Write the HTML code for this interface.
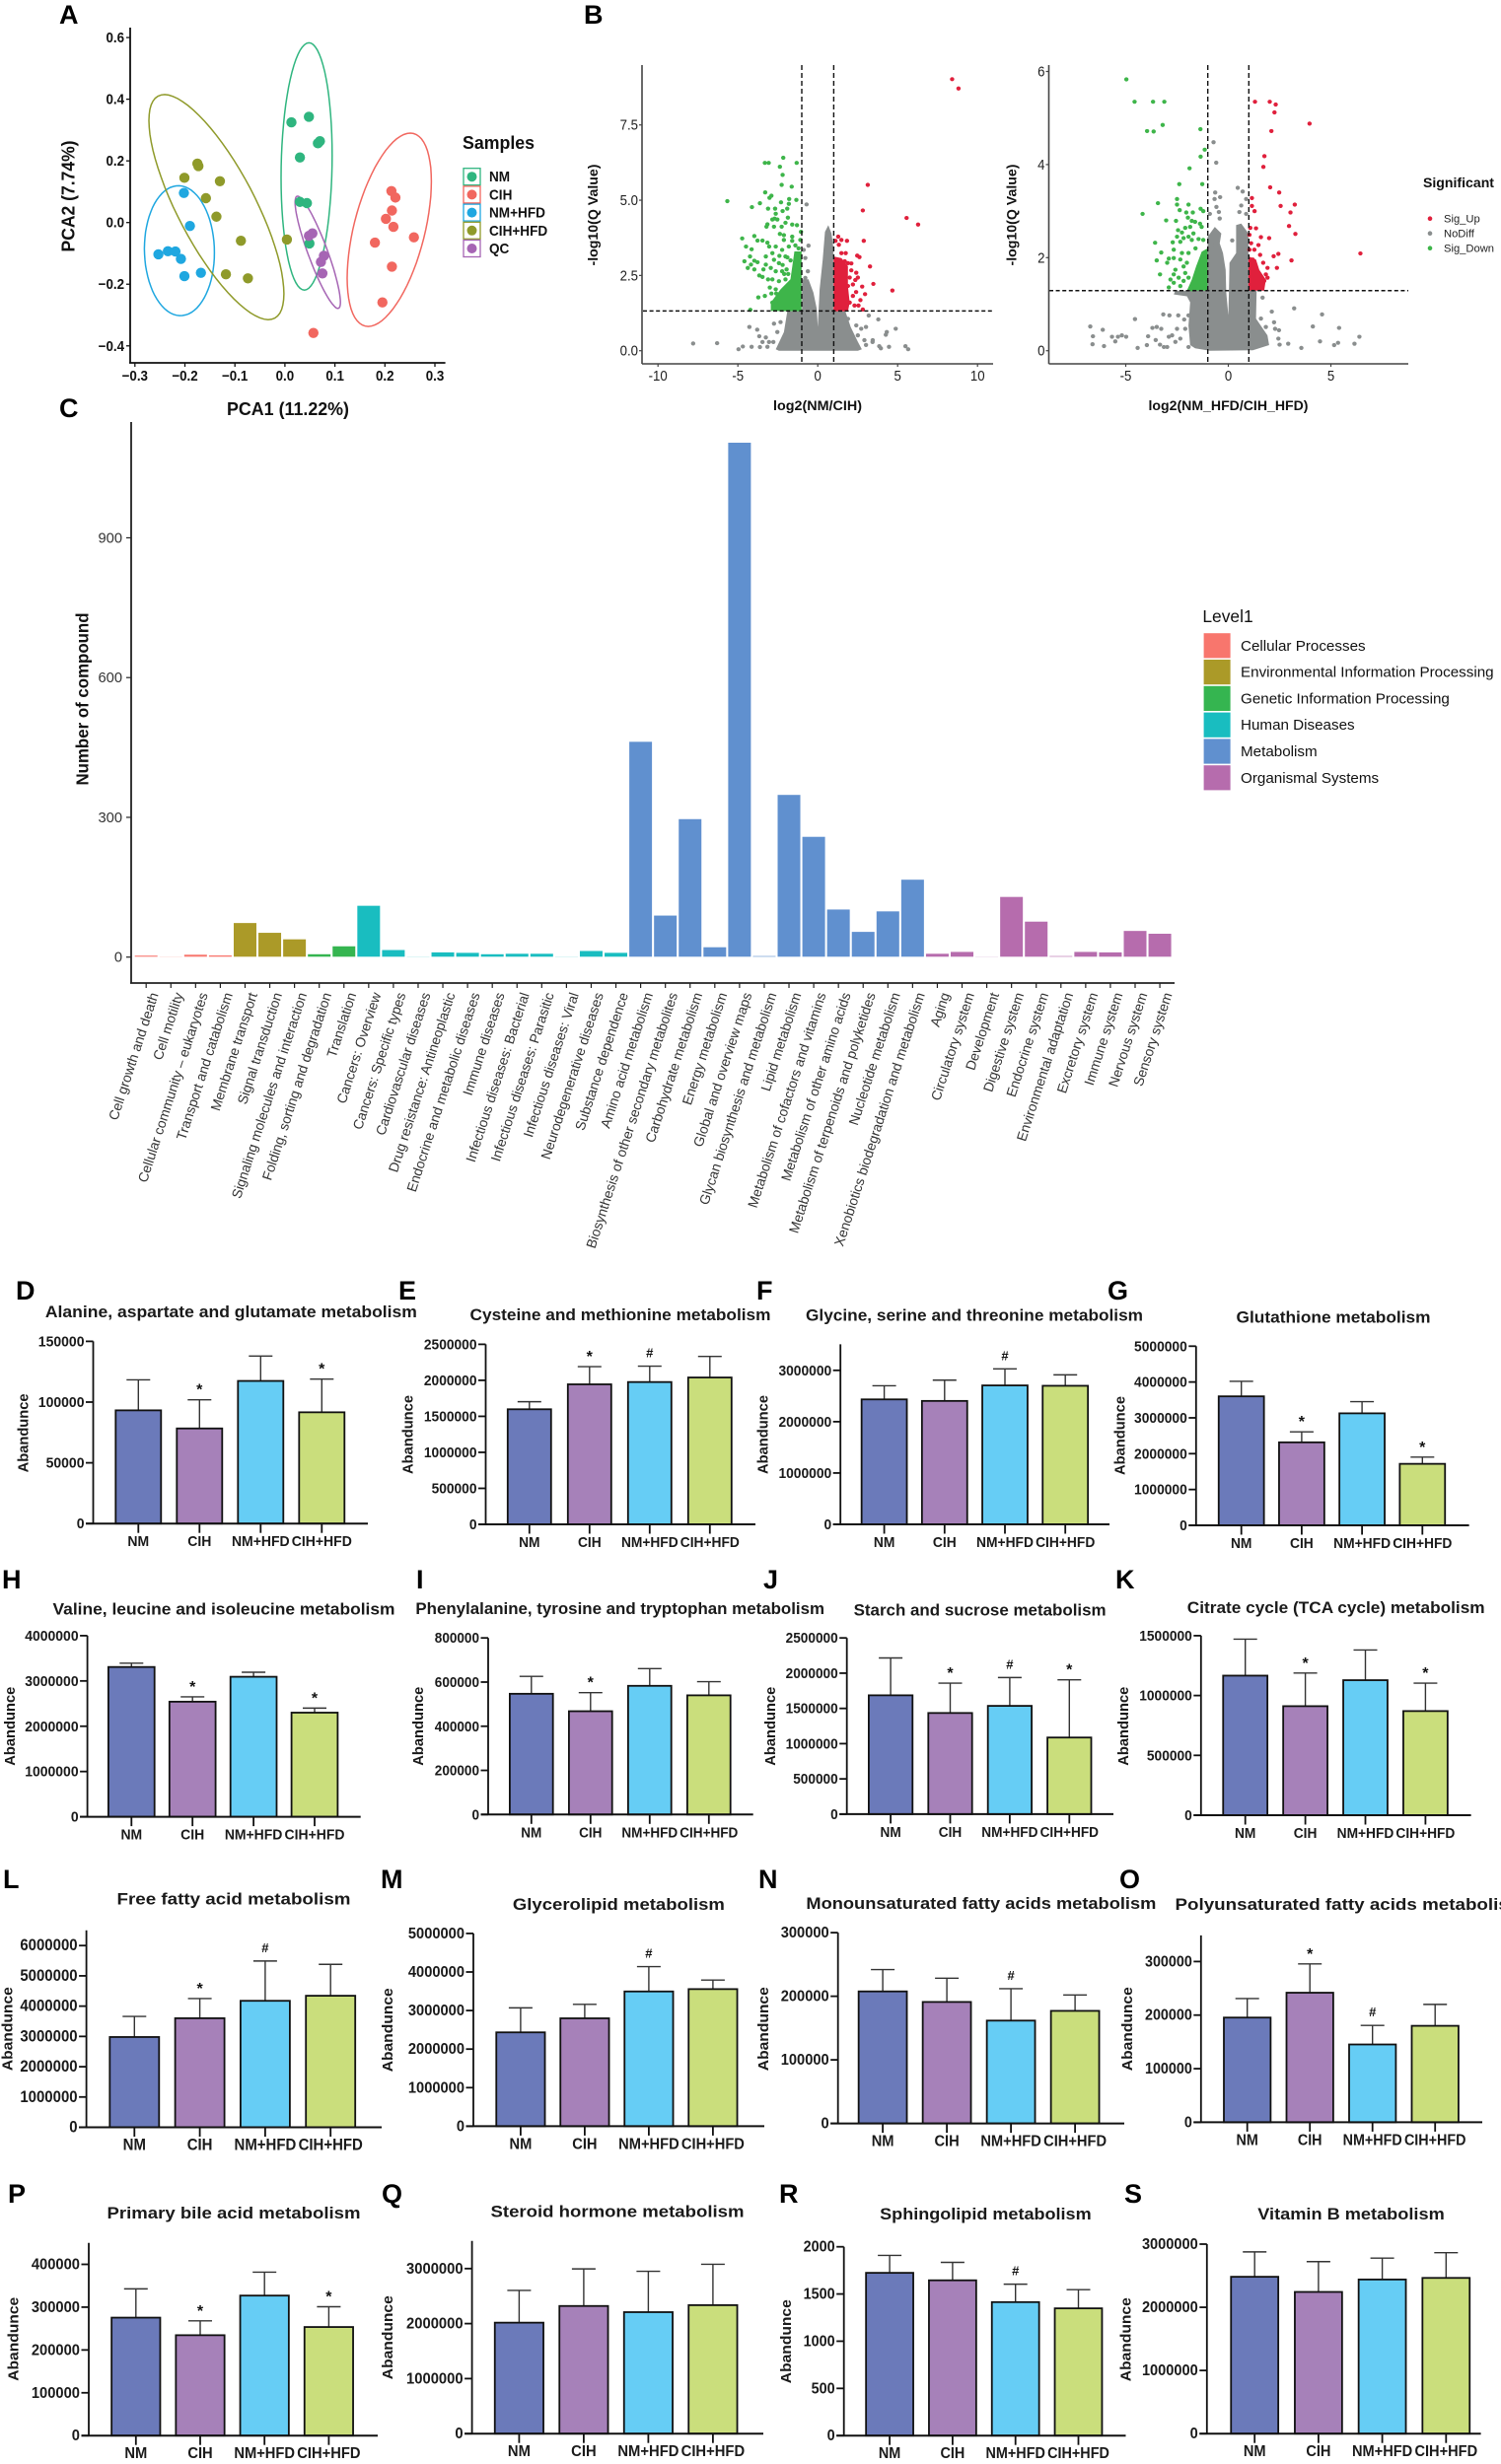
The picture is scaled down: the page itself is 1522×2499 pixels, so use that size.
<!DOCTYPE html>
<html lang="en">
<head>
<meta charset="utf-8">
<title>Metabolomics figure</title>
<style>
html,body{margin:0;padding:0;background:#fff;width:1522px;height:2499px;overflow:hidden}
svg{display:block;font-family:"Liberation Sans",sans-serif}
.letter{font-size:27px;font-weight:700;fill:#000}
.ptitle{font-size:17px;font-weight:700;fill:#1a1a1a;text-anchor:middle}
.abund{font-size:15px;font-weight:700;fill:#1a1a1a;text-anchor:middle}
.vt{font-size:14px;font-weight:700;fill:#111;text-anchor:middle}
</style>
</head>
<body>
<svg id="figure" xmlns="http://www.w3.org/2000/svg" width="1522" height="2499" viewBox="0 0 1522 2499">
<rect x="0" y="0" width="1522" height="2499" fill="#fff"/>
<text class="letter" x="60" y="24">A</text>
<text class="letter" x="592" y="24">B</text>
<text class="letter" x="60" y="423">C</text>
<text class="letter" x="16" y="1318">D</text>
<text class="letter" x="404" y="1318">E</text>
<text class="letter" x="767" y="1318">F</text>
<text class="letter" x="1123" y="1318">G</text>
<text class="letter" x="2" y="1611">H</text>
<text class="letter" x="422" y="1611">I</text>
<text class="letter" x="774" y="1611">J</text>
<text class="letter" x="1131" y="1611">K</text>
<text class="letter" x="3" y="1915">L</text>
<text class="letter" x="386" y="1915">M</text>
<text class="letter" x="769" y="1915">N</text>
<text class="letter" x="1135" y="1915">O</text>
<text class="letter" x="8" y="2234">P</text>
<text class="letter" x="387" y="2234">Q</text>
<text class="letter" x="790" y="2234">R</text>
<text class="letter" x="1140" y="2234">S</text>

<!-- panel A static text -->
<text x="69" y="199" dy="0.35em" transform="rotate(-90 69 199)" text-anchor="middle" font-size="18" font-weight="700" fill="#111" textLength="113" lengthAdjust="spacingAndGlyphs">PCA2 (7.74%)</text>
<text x="292" y="421" text-anchor="middle" font-size="18" font-weight="700" fill="#111" textLength="124" lengthAdjust="spacingAndGlyphs">PCA1 (11.22%)</text>
<text x="469" y="151" font-size="18" font-weight="700" fill="#111" textLength="73" lengthAdjust="spacingAndGlyphs">Samples</text>

<!-- panel B static text -->
<text x="601" y="218" dy="0.35em" transform="rotate(-90 601 218)" class="vt" textLength="103" lengthAdjust="spacingAndGlyphs">-log10(Q Value)</text>
<text x="1025.6" y="218" dy="0.35em" transform="rotate(-90 1025.6 218)" class="vt" textLength="103" lengthAdjust="spacingAndGlyphs">-log10(Q Value)</text>
<text x="829" y="416" class="vt" textLength="90" lengthAdjust="spacingAndGlyphs">log2(NM/CIH)</text>
<text x="1245.5" y="416" class="vt" textLength="162" lengthAdjust="spacingAndGlyphs">log2(NM_HFD/CIH_HFD)</text>
<text x="1443" y="190" font-size="14" font-weight="700" fill="#111" textLength="72" lengthAdjust="spacingAndGlyphs">Significant</text>

<!-- panel C static text -->
<text x="83.5" y="709" dy="0.35em" transform="rotate(-90 83.5 709)" text-anchor="middle" font-size="17.5" font-weight="700" fill="#111" textLength="175" lengthAdjust="spacingAndGlyphs">Number of compound</text>
<text x="1219.4" y="631" font-size="17.4" fill="#111">Level1</text>

<!-- bar panel titles -->
<text class="ptitle" x="234.4" y="1336" textLength="377" lengthAdjust="spacingAndGlyphs">Alanine, aspartate and glutamate metabolism</text>
<text class="ptitle" x="629" y="1339" textLength="305" lengthAdjust="spacingAndGlyphs">Cysteine and methionine metabolism</text>
<text class="ptitle" x="988" y="1339.5" textLength="342" lengthAdjust="spacingAndGlyphs">Glycine, serine and threonine metabolism</text>
<text class="ptitle" x="1352" y="1341.5" textLength="197" lengthAdjust="spacingAndGlyphs">Glutathione metabolism</text>
<text class="ptitle" x="227" y="1637.5" textLength="347" lengthAdjust="spacingAndGlyphs">Valine, leucine and isoleucine metabolism</text>
<text class="ptitle" x="628.7" y="1637" textLength="414.6" lengthAdjust="spacingAndGlyphs">Phenylalanine, tyrosine and tryptophan metabolism</text>
<text class="ptitle" x="993.6" y="1638.5" textLength="256" lengthAdjust="spacingAndGlyphs">Starch and sucrose metabolism</text>
<text class="ptitle" x="1354.7" y="1636" textLength="301.8" lengthAdjust="spacingAndGlyphs">Citrate cycle (TCA cycle) metabolism</text>
<text class="ptitle" x="237" y="1931.5" textLength="237" lengthAdjust="spacingAndGlyphs">Free fatty acid metabolism</text>
<text class="ptitle" x="627.4" y="1937" textLength="215" lengthAdjust="spacingAndGlyphs">Glycerolipid metabolism</text>
<text class="ptitle" x="994.9" y="1936" textLength="355" lengthAdjust="spacingAndGlyphs">Monounsaturated fatty acids metabolism</text>
<text class="ptitle" x="1369" y="1937" textLength="355" lengthAdjust="spacingAndGlyphs">Polyunsaturated fatty acids metabolism</text>
<text class="ptitle" x="237" y="2250" textLength="257" lengthAdjust="spacingAndGlyphs">Primary bile acid metabolism</text>
<text class="ptitle" x="626" y="2248.5" textLength="257" lengthAdjust="spacingAndGlyphs">Steroid hormone metabolism</text>
<text class="ptitle" x="999.4" y="2251" textLength="214.5" lengthAdjust="spacingAndGlyphs">Sphingolipid metabolism</text>
<text class="ptitle" x="1370" y="2251" textLength="189.5" lengthAdjust="spacingAndGlyphs">Vitamin B metabolism</text>

<!-- bar panel y titles -->
<text class="abund" x="23.4" y="1453.4" dy="0.35em" transform="rotate(-90 23.4 1453.4)" textLength="80" lengthAdjust="spacingAndGlyphs">Abandunce</text>
<text class="abund" x="413" y="1455" dy="0.35em" transform="rotate(-90 413 1455)" textLength="80" lengthAdjust="spacingAndGlyphs">Abandunce</text>
<text class="abund" x="773" y="1455" dy="0.35em" transform="rotate(-90 773 1455)" textLength="80" lengthAdjust="spacingAndGlyphs">Abandunce</text>
<text class="abund" x="1135" y="1456" dy="0.35em" transform="rotate(-90 1135 1456)" textLength="80" lengthAdjust="spacingAndGlyphs">Abandunce</text>
<text class="abund" x="10" y="1750.7" dy="0.35em" transform="rotate(-90 10 1750.7)" textLength="80" lengthAdjust="spacingAndGlyphs">Abandunce</text>
<text class="abund" x="424" y="1750.7" dy="0.35em" transform="rotate(-90 424 1750.7)" textLength="80" lengthAdjust="spacingAndGlyphs">Abandunce</text>
<text class="abund" x="781" y="1750.7" dy="0.35em" transform="rotate(-90 781 1750.7)" textLength="80" lengthAdjust="spacingAndGlyphs">Abandunce</text>
<text class="abund" x="1139" y="1750.7" dy="0.35em" transform="rotate(-90 1139 1750.7)" textLength="80" lengthAdjust="spacingAndGlyphs">Abandunce</text>
<text class="abund" x="7.5" y="2057.7" dy="0.35em" transform="rotate(-90 7.5 2057.7)" textLength="85" lengthAdjust="spacingAndGlyphs">Abandunce</text>
<text class="abund" x="393" y="2058.8" dy="0.35em" transform="rotate(-90 393 2058.8)" textLength="85" lengthAdjust="spacingAndGlyphs">Abandunce</text>
<text class="abund" x="774" y="2057.7" dy="0.35em" transform="rotate(-90 774 2057.7)" textLength="85" lengthAdjust="spacingAndGlyphs">Abandunce</text>
<text class="abund" x="1143" y="2057.7" dy="0.35em" transform="rotate(-90 1143 2057.7)" textLength="85" lengthAdjust="spacingAndGlyphs">Abandunce</text>
<text class="abund" x="13.4" y="2372.3" dy="0.35em" transform="rotate(-90 13.4 2372.3)" textLength="85" lengthAdjust="spacingAndGlyphs">Abandunce</text>
<text class="abund" x="393" y="2370.7" dy="0.35em" transform="rotate(-90 393 2370.7)" textLength="85" lengthAdjust="spacingAndGlyphs">Abandunce</text>
<text class="abund" x="797" y="2374.7" dy="0.35em" transform="rotate(-90 797 2374.7)" textLength="85" lengthAdjust="spacingAndGlyphs">Abandunce</text>
<text class="abund" x="1141.5" y="2372.7" dy="0.35em" transform="rotate(-90 1141.5 2372.7)" textLength="85" lengthAdjust="spacingAndGlyphs">Abandunce</text>
</svg>

<script>
/* ---------- Panel A data ---------- */
const pcaGroups = ['NM','CIH','NM+HFD','CIH+HFD','QC'];
const pcaXTicks = [-0.3,-0.2,-0.1,0,0.1,0.2,0.3];
const pcaYTicks = [-0.4,-0.2,0,0.2,0.4,0.6];
const pcaNM = [[.013,.325],[.048,.343],[.066,.257],[.070,.264],[.030,.211],[.030,.067],[.044,.063],[.049,-.068]];
const pcaCIH = [[.213,.102],[.221,.081],[.214,.039],[.202,.012],[.217,-.014],[.258,-.048],[.180,-.065],[.214,-.143],[.195,-.259],[.057,-.358]];
const pcaNMHFD = [[-.202,.096],[-.190,-.011],[-.253,-.103],[-.234,-.093],[-.219,-.094],[-.208,-.118],[-.201,-.174],[-.168,-.163]];
const pcaCIHHFD = [[-.175,.191],[-.173,.183],[-.201,.145],[-.130,.134],[-.158,.079],[-.137,.019],[-.088,-.059],[.004,-.055],[-.118,-.168],[-.074,-.181]];
const pcaQC = [[.048,-.043],[.055,-.035],[.078,-.108],[.072,-.128],[.075,-.165]];
/* ellipse: centre x, centre y, half-extent x, half-extent y, correlation (data units) */
const pcaEllipses = [[.0434,.182,.051,.401,.09],[.2087,-.0235,.0842,.3135,.5],[-.211,-.0913,.07,.2107,-.03],[-.137,.05,.135,.365,-.77],[.0657,-.0965,.0453,.182,-.89]];

/* ---------- Panel B data ---------- */
const volcanoLeftXTicks = [-10,-5,0,5,10];
const volcanoLeftYTicks = [0,2.5,5,7.5];
const volcanoRightXTicks = [-5,0,5];
const volcanoRightYTicks = [0,2,4,6];
const volcanoLegend = ['Sig_Up','NoDiff','Sig_Down'];
const leftNoDiffCloud = [[-2.63,.05],[-2.12,.62],[-1.91,1.31],[-.99,1.31],[-.99,2.37],[-.58,2.37],[-.27,1.93],[-.06,1.39],[0,.79],[.12,2.04],[.31,3.02],[.45,3.95],[.66,4.17],[.86,3.9],[.97,3.46],[.97,1.31],[1.73,1.31],[2.06,.79],[2.51,.29],[2.76,.05],[2.51,0],[-2.43,0]];
const leftDownCloud = [[-1.01,1.31],[-1.01,3.3],[-1.46,3.3],[-1.71,2.37],[-2.33,2.04],[-2.94,1.6],[-2.94,1.32]];
const leftUpCloud = [[.99,1.31],[.99,3.13],[1.48,3.08],[1.89,2.81],[1.89,2.15],[2,1.6],[1.89,1.31]];
const leftNoDiff = [[-7.8,.24],[-6.3,.25],[-4.96,.05],[-4.69,.14],[-4.14,.13],[-4.28,.79],[-3.79,.7],[-3.66,.48],[-3.25,.44],[-3.62,.12],[-3.15,.13],[-2.78,.29],[-2.74,.9],[-2.33,.95],[-2.53,.62],[-3.46,.29],[-3.05,.29],[3.19,1.17],[3.79,1.04],[2.41,.84],[4.26,.53],[4.32,.62],[4.88,.73],[3.44,.35],[2.92,.35],[2.51,.51],[3.85,.15],[3.95,.08],[4.46,.13],[5.49,.15],[5.66,.05],[3.02,.79],[2.72,.73],[3.43,.29],[3.02,.19],[1.89,1.06],[1.69,.95],[-.7,4.86],[-.58,3.49],[-.78,3.08],[-.62,2.64],[-.88,3.35],[-.78,2.42]];
const leftDown = [[-2.16,6.41],[-3.31,6.24],[-3.07,6.24],[-1.32,6.24],[-2.37,6.11],[-2.2,5.84],[-2.26,5.51],[-1.63,5.45],[-3.29,5.26],[-2.9,5.15],[-3.02,5.08],[-1.34,5.01],[-1.79,5.04],[-2.3,4.93],[-1.81,4.88],[-3.62,4.9],[-4.12,4.77],[-5.66,4.97],[-3.11,4.72],[-2.67,4.72],[-1.91,4.72],[-2.2,4.64],[-2.63,4.55],[-2.7,4.39],[-2.84,4.36],[-1.87,4.42],[-2.53,4.36],[-3.15,4.2],[-2.02,4.25],[-1.6,4.19],[-1.3,4.17],[-3.21,4.12],[-2.74,4.12],[-2.26,4.12],[-4.73,3.73],[-3.97,3.81],[-3.77,3.66],[-3.46,3.66],[-3.15,3.59],[-2.37,3.88],[-2.12,3.84],[-1.6,3.79],[-1.05,3.95],[-1.09,3.68],[-2.12,3.68],[-1.6,3.65],[-4.49,3.46],[-4.14,3.37],[-4.24,3.13],[-4.59,2.97],[-3.97,2.99],[-3.77,2.94],[-4.18,2.86],[-4.38,2.75],[-3.97,2.7],[-3.4,2.7],[-3.25,2.86],[-3.66,2.5],[-3.46,2.45],[-3.72,1.77],[-3.31,1.82],[-4.22,1.36],[-3.04,3.46],[-2.63,3.46],[-2.84,3.24],[-2.23,3.35],[-1.81,3.46],[-3.25,3.13],[-2.74,3.02],[-2.94,2.75],[-2.43,2.91],[-2.02,3.13],[-2.63,2.64],[-2.23,2.64],[-3.11,2.37],[-2.84,2.37],[-2.43,2.31],[-2.02,2.37],[-3,2.1],[-2.63,2.04],[-2.12,2.04],[-2.84,1.6],[-2.43,1.66],[-2.6,1.9],[-2.9,1.9],[-1.9,3.1],[-1.7,3],[-2.2,2.85],[-1.95,2.7],[-1.4,3.5],[-1.2,3.4],[-2.4,3.15],[-2.1,2.55],[-1.85,2.55]];
const leftUp = [[8.41,9.02],[8.81,8.71],[3.13,5.51],[2.82,4.66],[5.56,4.41],[6.28,4.19],[2.88,3.65],[1.28,3.79],[1.11,3.65],[1.48,3.68],[1.83,3.65],[1.32,3.52],[1.48,3.24],[1.75,3.24],[2.47,3.16],[2.61,3.11],[3.27,2.8],[3.48,2.22],[4.67,2],[1.69,2.97],[1.89,2.91],[2.1,2.67],[2.41,2.59],[2.51,2.43],[2,2.43],[2.78,2.13],[2.96,1.88],[2.67,1.68],[2.2,1.82],[2.82,1.37],[1.89,2.15],[2.2,2.2],[2.3,1.5],[2,1.6],[2.55,1.5],[2.4,1.95],[2.35,2.35],[2.1,2.9]];
const rightNoDiffCloud = [[-1.86,.12],[-1.94,.54],[-1.86,1.04],[-2.02,1.17],[-2.66,1.21],[-2.58,1.29],[-1.01,1.29],[-1.01,2.45],[-.66,2.66],[-.34,2.52],[-.42,2.31],[-.26,2.1],[-.13,1.74],[-.1,1.25],[0,.76],[.03,1.25],[.06,1.89],[.38,2.1],[.38,2.7],[.63,2.73],[.98,2.52],[.98,1.29],[1.38,1.29],[1.35,.69],[1.91,.33],[1.99,.12],[1.19,.01],[-.9,0],[-1.62,.05]];
const rightDownCloud = [[-1.01,1.29],[-1.01,2.2],[-1.3,2.13],[-1.57,1.81],[-1.78,1.53],[-2.02,1.29]];
const rightUpCloud = [[.98,1.29],[.98,2.03],[1.35,1.96],[1.51,1.74],[1.83,1.53],[1.75,1.29]];
const rightNoDiff = [[-4.55,.68],[-3.17,.78],[-2.87,.76],[-2.44,.76],[-2.15,.67],[-1.94,.76],[-6.73,.52],[-6.12,.45],[-6.6,.31],[-5.67,.3],[-5.38,.3],[-5.19,.33],[-4.98,.3],[-5.51,.2],[-6.62,.14],[-6.06,.1],[-4.42,.06],[-3.97,.12],[-3.91,.31],[-3.7,.49],[-3.49,.51],[-3.27,.47],[-3.54,.23],[-3.33,.13],[-3.14,.08],[-2.9,.3],[-2.74,.33],[-2.5,.47],[-2.34,.26],[-2.58,.19],[-2.98,.08],[-2.1,.47],[-1.94,.08],[2.12,.84],[3.21,.91],[4.57,.78],[4.12,.52],[5.4,.49],[6.39,.3],[4.47,.2],[5.35,.17],[5.16,.12],[6.15,.15],[3.56,.06],[2.92,.15],[2.5,.13],[2.44,.26],[2.47,.44],[2.23,.61],[2.28,.47],[1.67,1.14],[1.83,.51],[1.59,.69],[-.72,4.48],[-.59,4.04],[-.64,3.4],[-.4,3.3],[-.67,3.26],[.46,3.5],[.7,3.42],[.87,3.26],[.63,3.12],[.54,2.98],[-.58,3.09],[-.46,2.98],[-.9,2.94],[-.42,2.84],[.87,2.94],[.19,2.37],[-.82,2.27]];
const rightDown = [[-4.97,5.83],[-4.57,5.35],[-3.67,5.35],[-3.12,5.35],[-3.2,4.85],[-3.96,4.72],[-3.64,4.71],[-1.36,4.76],[-1.15,4.32],[-1.35,4.17],[-1.89,3.92],[-2.39,3.58],[-1.27,3.58],[-2.5,3.26],[-3.43,3.17],[-2.5,3.14],[-1.94,3.14],[-2.37,3.02],[-2.05,2.97],[-1.35,3.05],[-1.22,3],[-4.18,2.94],[-1.73,2.97],[-3.03,2.8],[-2.55,2.79],[-1.97,2.86],[-1.78,2.79],[-1.62,2.77],[-1.86,2.66],[-2.1,2.64],[-1.38,2.73],[-1.3,2.66],[-2.45,2.59],[-2.26,2.54],[-1.7,2.52],[-1.94,2.45],[-2.18,2.42],[-2.5,2.45],[-2.34,2.34],[-3.57,2.32],[-2.71,2.33],[-1.78,2.38],[-1.22,2.38],[-3.27,2.11],[-2.66,2.17],[-2.26,2.1],[-1.94,2.1],[-3.49,1.94],[-2.9,1.98],[-2.66,1.99],[-2.98,1.89],[-2.34,1.96],[-2.02,1.89],[-2.58,1.74],[-2.18,1.81],[-3.33,1.64],[-2.66,1.64],[-2.1,1.67],[-2.82,1.53],[-2.42,1.57],[-2.66,1.46],[-1.94,1.57],[-2.9,1.36],[-2.34,1.39],[-2.18,1.5],[-1.78,1.32],[-1.6,2.2],[-1.45,2.4]];
const rightUp = [[1.3,5.35],[2.02,5.35],[2.31,5.29],[2.25,5.12],[3.96,4.88],[2.1,4.72],[1.76,4.18],[1.71,3.95],[2.04,3.51],[2.48,3.4],[1.15,3.28],[1.15,3.11],[2.55,3.11],[3.24,3.14],[1.28,3],[3.03,2.97],[2.96,2.68],[3.27,2.51],[1.07,2.64],[1.35,2.63],[1.59,2.44],[1.99,2.42],[1.03,2.49],[1.11,2.31],[1.47,2.27],[1.03,2.17],[1.27,2.17],[2.44,2.08],[2.21,2.03],[1.55,2.06],[6.44,2.09],[3.08,1.94],[1.7,1.89],[1.91,1.78],[2.37,1.78],[1.83,1.64],[1.75,1.5],[1.91,1.57],[1.19,1.96]];

/* ---------- Panel C data ---------- */
const pathwayNames = ['Cell growth and death','Cell motility','Cellular community – eukaryotes','Transport and catabolism','Membrane transport','Signal transduction','Signaling molecules and interaction','Folding, sorting and degradation','Translation','Cancers: Overview','Cancers: Specific types','Cardiovascular diseases','Drug resistance: Antineoplastic','Endocrine and metabolic diseases','Immune diseases','Infectious diseases: Bacterial','Infectious diseases: Parasitic','Infectious diseases: Viral','Neurodegenerative diseases','Substance dependence','Amino acid metabolism','Biosynthesis of other secondary metabolites','Carbohydrate metabolism','Energy metabolism','Global and overview maps','Glycan biosynthesis and metabolism','Lipid metabolism','Metabolism of cofactors and vitamins','Metabolism of other amino acids','Metabolism of terpenoids and polyketides','Nucleotide metabolism','Xenobiotics biodegradation and metabolism','Aging','Circulatory system','Development','Digestive system','Endocrine system','Environmental adaptation','Excretory system','Immune system','Nervous system','Sensory system'];
const pathwayCounts = [4,2,6,4.5,74,53,39,7,24,111,16,2,11,10,7,8,8,2,14,10,463,90,297,22,1105,3,349,259,103,55,99,167,8,12,2,130,77,3,12,11,57,51];
const pathwayLevels = [0,0,0,0,1,1,1,2,2,3,3,3,3,3,3,3,3,3,3,3,4,4,4,4,4,4,4,4,4,4,4,4,5,5,5,5,5,5,5,5,5,5];
const levelNames = ['Cellular Processes','Environmental Information Processing','Genetic Information Processing','Human Diseases','Metabolism','Organismal Systems'];
const pathwayYTicks = [0,300,600,900];

/* ---------- Bar panels D-S data ---------- */
const barGroups = ['NM','CIH','NM+HFD','CIH+HFD'];
const panelKeys = ['d','e','f','g','h','i','j','k','l','m','n','o','p','q','r','s'];
const panelMeans = [
 [93200,78300,117400,91600],
 [1598000,1944000,1976000,2039000],
 [2434000,2404000,2706000,2699000],
 [3600000,2316000,3126000,1716000],
 [3308000,2542000,3092000,2300000],
 [547000,468000,583000,540000],
 [1686000,1435000,1536000,1087000],
 [1166000,911000,1128000,870000],
 [2980000,3600000,4176000,4343000],
 [2434000,2798000,3495000,3556000],
 [207600,191000,161700,177000],
 [195400,241800,145200,180000],
 [275500,234500,327000,253600],
 [2017000,2320000,2208000,2335000],
 [1724,1645,1414,1348],
 [2483000,2243000,2440000,2465000]
];
const panelUpper = [
 [118300,101900,137900,118900],
 [1703000,2190000,2196000,2332000],
 [2699000,2809000,3029000,2912000],
 [4020000,2610000,3453000,1905000],
 [3392000,2650000,3192000,2400000],
 [626000,552000,661000,602000],
 [2216000,1858000,1938000,1906000],
 [1471000,1188000,1380000,1103000],
 [3660000,4250000,5490000,5380000],
 [3070000,3160000,4140000,3790000],
 [241900,228400,211900,202000],
 [231000,295600,180800,220000],
 [342700,268000,381800,301000],
 [2604000,2994000,2951000,3078000],
 [1909,1835,1604,1546],
 [2877000,2723000,2779000,2865000]
];
const panelMarks = [
 ['','*','','*'],['','*','#',''],['','','#',''],['','*','','*'],
 ['','*','','*'],['','*','',''],['','*','#','*'],['','*','','*'],
 ['','*','#',''],['','','#',''],['','','#',''],['','*','#',''],
 ['','*','','*'],['','','',''],['','','#',''],['','','','']
];
const panelTicks = [
 [0,50000,100000,150000],
 [0,500000,1000000,1500000,2000000,2500000],
 [0,1000000,2000000,3000000],
 [0,1000000,2000000,3000000,4000000,5000000],
 [0,1000000,2000000,3000000,4000000],
 [0,200000,400000,600000,800000],
 [0,500000,1000000,1500000,2000000,2500000],
 [0,500000,1000000,1500000],
 [0,1000000,2000000,3000000,4000000,5000000,6000000],
 [0,1000000,2000000,3000000,4000000,5000000],
 [0,100000,200000,300000],
 [0,100000,200000,300000],
 [0,100000,200000,300000,400000],
 [0,1000000,2000000,3000000],
 [0,500,1000,1500,2000],
 [0,1000000,2000000,3000000]
];

/* ---------- Layout (pixels) ---------- */
const panelLayout = [
 {ax:94.5,y0:1545.2,yt:1360.4,top:1360.4,xe:373,b0:140.3,bs:62,bw:46},
 {ax:492.5,y0:1546,yt:1363.4,top:1363.4,xe:766,b0:536.8,bs:61,bw:44},
 {ax:852.2,y0:1546,yt:1389.8,top:1363.4,xe:1125,b0:896.6,bs:61.2,bw:45.9},
 {ax:1212.8,y0:1547,yt:1365.3,top:1365.3,xe:1489.6,b0:1258.7,bs:61.2,bw:45.9},
 {ax:88.6,y0:1842.6,yt:1658.9,top:1658.9,xe:365.7,b0:133.3,bs:61.9,bw:46.8},
 {ax:495,y0:1840.3,yt:1661.2,top:1661.2,xe:763.7,b0:538.8,bs:60,bw:43.8},
 {ax:858.7,y0:1839.9,yt:1661.2,top:1661.2,xe:1129,b0:903.1,bs:60.4,bw:44.4},
 {ax:1217.8,y0:1841,yt:1658.9,top:1658.9,xe:1491.6,b0:1262.7,bs:60.9,bw:44.9},
 {ax:87.6,y0:2157.5,yt:1973.2,top:1957.8,xe:387,b0:136.3,bs:66.3,bw:50},
 {ax:480,y0:2156.4,yt:1960.9,top:1960.9,xe:775,b0:527.9,bs:65,bw:49.3},
 {ax:849.7,y0:2153.6,yt:1960.1,top:1960.1,xe:1140,b0:895.1,bs:65,bw:48.9},
 {ax:1217.8,y0:2152.4,yt:1989.4,top:1962.9,xe:1503,b0:1264.7,bs:63.5,bw:47.4},
 {ax:90,y0:2470.2,yt:2296.5,top:2274.8,xe:383,b0:137.8,bs:65.2,bw:49.3},
 {ax:478.6,y0:2468.2,yt:2300.8,top:2272.8,xe:774,b0:526.4,bs:65.5,bw:49.3},
 {ax:855.7,y0:2470.2,yt:2278.7,top:2278.7,xe:1141.5,b0:902.1,bs:63.8,bw:47.9},
 {ax:1223.8,y0:2468.2,yt:2276,top:2276,xe:1501.6,b0:1272.2,bs:64.7,bw:47.9}
];
const barColors = ['#6b7aba','#a681b9','#66cdf5','#cade7c'];
const pcaColors = ['#2fb57f','#f1675f','#1fa7e0','#8f9a2a','#a665b4'];
const levelColors = ['#f8766d','#ab9a28','#35b550','#19bdc0','#6090cf','#b66cad'];
const volcanoColors = {up:'#e0203c',none:'#8a8e8e',down:'#3eb54a'};

const svg = document.getElementById('figure');
const NS = 'http://www.w3.org/2000/svg';
function make(tag, attrs, parent, content){
  const n = document.createElementNS(NS, tag);
  for (const k in attrs) n.setAttribute(k, attrs[k]);
  if (content !== undefined) n.textContent = content;
  (parent || svg).appendChild(n);
  return n;
}
function slug(s){ return String(s).toLowerCase().replace(/[^a-z0-9]+/g,'-').replace(/^-|-$/g,''); }
function fmtSigned(v,d){ return (v<0?'\u2212':'') + Math.abs(v).toFixed(d); }
function squeeze(t,f){
  t.setAttribute('textLength', (t.getComputedTextLength()*f).toFixed(2));
  t.setAttribute('lengthAdjust','spacingAndGlyphs');
}

/* ---------- Panel A ---------- */
(function(){
  const g = make('g',{});
  
  
  const x = v => 288.9 + v*507;
  const y = v => 225.7 - v*312.7;
  const yAxis = make('line',{x1:132,y1:28,x2:132,y2:368,stroke:'#111','stroke-width':1.8},g);
  
  
  const xAxis = make('line',{x1:131,y1:368,x2:451.6,y2:368,stroke:'#111','stroke-width':1.8},g);
  
  
  pcaXTicks.forEach(t=>{
    const tk = make('line',{x1:x(t),y1:368,x2:x(t),y2:372,stroke:'#111','stroke-width':1.3},g);
    
    
    const lb = make('text',{x:x(t),y:386,'text-anchor':'middle','font-size':14.5,'font-weight':700,fill:'#111'},g,fmtSigned(t,1));
    
    
    squeeze(lb,0.92);
  });
  pcaYTicks.forEach(t=>{
    const tk = make('line',{x1:128,y1:y(t),x2:132,y2:y(t),stroke:'#111','stroke-width':1.3},g);
    
    
    const lb = make('text',{x:126,y:y(t)+5,'text-anchor':'end','font-size':14.5,'font-weight':700,fill:'#111'},g,fmtSigned(t,1));
    
    
    squeeze(lb,0.92);
  });
  const series = [pcaNM,pcaCIH,pcaNMHFD,pcaCIHHFD,pcaQC];
  pcaEllipses.forEach((e,i)=>{
    let d='';
    for(let k=0;k<=72;k++){
      const t=k/72*2*Math.PI;
      const dx=e[0]+e[2]*Math.cos(t);
      const dy=e[1]+e[3]*(e[4]*Math.cos(t)+Math.sqrt(1-e[4]*e[4])*Math.sin(t));
      d+=(k?'L':'M')+x(dx).toFixed(1)+' '+y(dy).toFixed(1);
    }
    const p = make('path',{d:d+'Z',fill:'none',stroke:pcaColors[i],'stroke-width':1.5},g);
    
    
  });
  series.forEach((s,i)=>{
    s.forEach(pt=>{
      const c = make('circle',{cx:x(pt[0]),cy:y(pt[1]),r:5.2,fill:pcaColors[i]},g);
      
      
    });
  });
  pcaGroups.forEach((name,i)=>{
    const top = 170.7 + i*18.2;
    const k = make('rect',{x:470,y:top,width:17,height:17,fill:'#fff',stroke:pcaColors[i],'stroke-width':1.3},g);
    
    
    const c = make('circle',{cx:478.5,cy:top+8.5,r:5,fill:pcaColors[i]},g);
    
    
    const t = make('text',{x:496,y:top+13.5,'font-size':14.6,'font-weight':700,fill:'#111'},g,name);
    
    
    squeeze(t,0.93);
  });
})();

/* ---------- Panel B ---------- */
function drawVolcano(name,cfg){
  const g = make('g',{});
  
  
  const x = v => cfg.x0 + v*cfg.xu;
  const y = v => cfg.y0 - v*cfg.yu;
  const poly = arr => arr.map(p=>x(p[0]).toFixed(1)+','+y(p[1]).toFixed(1)).join(' ');
  [[cfg.noneCloud,volcanoColors.none,'nodiff-cloud'],[cfg.downCloud,volcanoColors.down,'sig-down-cloud'],[cfg.upCloud,volcanoColors.up,'sig-up-cloud']].forEach(r=>{
    const p = make('polygon',{points:poly(r[0]),fill:r[1]},g);
    
    
  });
  [[cfg.none,volcanoColors.none,'nodiff-point'],[cfg.down,volcanoColors.down,'sig-down-point'],[cfg.up,volcanoColors.up,'sig-up-point']].forEach(r=>{
    r[0].forEach(pt=>{
      const c = make('ellipse',{cx:x(pt[0]),cy:y(pt[1]),rx:2.2,ry:2.1,fill:r[1]},g);
      
      
    });
  });
  [-1,1].forEach(v=>{
    const l = make('line',{x1:x(v),y1:66,x2:x(v),y2:369,stroke:'#111','stroke-width':1.4,'stroke-dasharray':'5 3'},g);
    
    
  });
  const h = make('line',{x1:cfg.hx1,y1:y(cfg.sig),x2:cfg.xe,y2:y(cfg.sig),stroke:'#111','stroke-width':1.5,'stroke-dasharray':'4 2.6'},g);
  
  
  const ya = make('line',{x1:cfg.ax,y1:66,x2:cfg.ax,y2:369,stroke:'#444','stroke-width':1.6},g);
  
  
  const xa = make('line',{x1:cfg.ax,y1:369,x2:cfg.xe,y2:369,stroke:'#444','stroke-width':1.6},g);
  
  
  cfg.xt.forEach(t=>{
    const k = make('line',{x1:x(t),y1:369,x2:x(t),y2:372,stroke:'#444','stroke-width':1.2},g);
    
    
    const lb = make('text',{x:x(t),y:386,'text-anchor':'middle','font-size':15,fill:'#222'},g,String(t));
    
    
    squeeze(lb,0.88);
  });
  cfg.yt.forEach(t=>{
    const k = make('line',{x1:cfg.ax-3,y1:y(t),x2:cfg.ax,y2:y(t),stroke:'#444','stroke-width':1.2},g);
    
    
    const lb = make('text',{x:cfg.ax-4,y:y(t)+5,'text-anchor':'end','font-size':15,fill:'#222'},g,cfg.yd?t.toFixed(cfg.yd):String(t));
    
    
    squeeze(lb,0.88);
  });
}
drawVolcano('volcano-left',{x0:829.2,xu:16.2,y0:355.7,yu:30.53,ax:651,xe:1007,hx1:652,sig:1.32,xt:volcanoLeftXTicks,yt:volcanoLeftYTicks,yd:1,noneCloud:leftNoDiffCloud,downCloud:leftDownCloud,upCloud:leftUpCloud,none:leftNoDiff,down:leftDown,up:leftUp});
drawVolcano('volcano-right',{x0:1245.5,xu:20.8,y0:355.7,yu:47.2,ax:1063.5,xe:1428,hx1:1064,sig:1.29,xt:volcanoRightXTicks,yt:volcanoRightYTicks,yd:0,noneCloud:rightNoDiffCloud,downCloud:rightDownCloud,upCloud:rightUpCloud,none:rightNoDiff,down:rightDown,up:rightUp});
volcanoLegend.forEach((name,i)=>{
  const col=[volcanoColors.up,volcanoColors.none,volcanoColors.down][i];
  const cy=221.7+i*15;
  const c = make('circle',{cx:1450,cy:cy,r:2.3,fill:col});
  
  
  const t = make('text',{x:1464,y:cy+4,'font-size':11.2,fill:'#222'},svg,name);
  
  
});

/* ---------- Panel C ---------- */
(function(){
  const g = make('g',{});
  
  
  const y = v => 970.7 - v*0.4725;
  const x = i => 148.2 + i*25.07;
  pathwayCounts.forEach((v,i)=>{
    const b = make('rect',{x:x(i)-11.9,y:y(v),width:23.8,height:Math.max(970.7-y(v),0.5),fill:levelColors[pathwayLevels[i]],stroke:'#fff','stroke-width':0.8},g);
    
    
    const k = make('line',{x1:x(i),y1:997,x2:x(i),y2:1002,stroke:'#222','stroke-width':1.2},g);
    
    
    const px=x(i)+8, py=1007;
    const t = make('text',{x:px,y:py,dy:'0.35em','text-anchor':'end','font-size':13.9,fill:'#333',transform:'rotate(-72 '+px+' '+py+')'},g,pathwayNames[i]);
    
    
  });
  const ya = make('line',{x1:133,y1:428,x2:133,y2:997,stroke:'#222','stroke-width':1.8},g);
  
  
  const xa = make('line',{x1:132,y1:997,x2:1191,y2:997,stroke:'#222','stroke-width':1.8},g);
  
  
  pathwayYTicks.forEach(t=>{
    const k = make('line',{x1:128,y1:y(t),x2:133,y2:y(t),stroke:'#222','stroke-width':1.2},g);
    
    
    const lb = make('text',{x:124,y:y(t)+5,'text-anchor':'end','font-size':14.7,fill:'#333'},g,String(t));
    
    
  });
  levelNames.forEach((name,i)=>{
    const cy=654.8+i*26.8;
    const r = make('rect',{x:1220.6,y:cy-12.6,width:27,height:25.2,fill:levelColors[i]},g);
    
    
    const t = make('text',{x:1258,y:cy+5,'font-size':15.2,fill:'#111'},g,name);
    
    
  });
})();

/* ---------- Panels D-S ---------- */
panelKeys.forEach((key,pi)=>{
  const L = panelLayout[pi];
  const ticks = panelTicks[pi];
  const vmax = ticks[ticks.length-1];
  const y = v => L.y0 - v/vmax*(L.y0-L.yt);
  const x = i => L.b0 + i*L.bs;
  const fs = 14*L.bs/62*1.08;
  const g = make('g',{});
  
  
  panelMeans[pi].forEach((v,i)=>{
    const up = panelUpper[pi][i];
    const stem = make('line',{x1:x(i),y1:y(up),x2:x(i),y2:y(v),stroke:'#333','stroke-width':1.4},g);
    
    
    const cap = make('line',{x1:x(i)-12,y1:y(up),x2:x(i)+12,y2:y(up),stroke:'#333','stroke-width':1.4},g);
    
    
    const b = make('rect',{x:x(i)-L.bw/2,y:y(v),width:L.bw,height:L.y0-y(v),fill:barColors[i],stroke:'#111','stroke-width':1.8},g);
    
    
    const mark = panelMarks[pi][i];
    if(mark){
      const m = make('text',{x:x(i),y:y(up)-(mark==='*'?5:9),'text-anchor':'middle','font-size':mark==='*'?16:13,'font-weight':700,fill:'#111'},g,mark);
      
      
    }
    const k = make('line',{x1:x(i),y1:L.y0,x2:x(i),y2:L.y0+9.5,stroke:'#111','stroke-width':1.8},g);
    
    
    const t = make('text',{x:x(i),y:L.y0+23,'text-anchor':'middle','font-size':fs,'font-weight':700,fill:'#1a1a1a'},g,barGroups[i]);
    
    
    squeeze(t,0.926);
  });
  const ya = make('line',{x1:L.ax,y1:L.top,x2:L.ax,y2:L.y0,stroke:'#111','stroke-width':1.8},g);
  
  
  const xa = make('line',{x1:L.ax-7.5,y1:L.y0,x2:L.xe,y2:L.y0,stroke:'#111','stroke-width':2},g);
  
  
  ticks.forEach(t=>{
    const k = make('line',{x1:L.ax-7.5,y1:y(t),x2:L.ax,y2:y(t),stroke:'#111','stroke-width':1.8},g);
    
    
    const lb = make('text',{x:L.ax-9,y:y(t)+5,'text-anchor':'end','font-size':fs,'font-weight':700,fill:'#1a1a1a'},g,String(t));
    
    
    squeeze(lb,0.926);
  });
});
</script>
</body>
</html>
